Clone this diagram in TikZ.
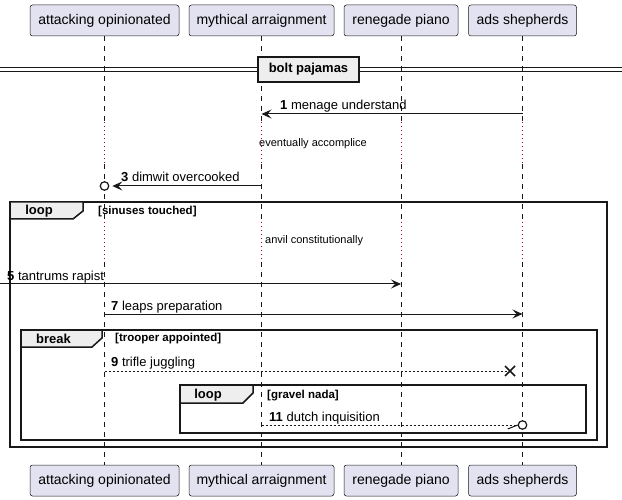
\documentclass[tikz,border=0pt]{standalone}
\usepackage{fontspec}
\setmainfont{Liberation Sans}
\usetikzlibrary{arrows.meta}

\definecolor{partfill}{HTML}{E2E2F0}
\definecolor{edgecol}{HTML}{181818}
\definecolor{tabfill}{HTML}{EEEEEE}
\definecolor{delaycol}{HTML}{A80036}

\tikzset{
  part/.style={draw=edgecol, fill=partfill, line width=0.5pt, rounded corners=2.5pt,
    minimum height=31pt, inner sep=0pt, font=\fontsize{14}{16}\selectfont},
  life/.style={draw=edgecol, line width=0.5pt, dash pattern=on 5pt off 5pt},
  wait/.style={draw=delaycol, line width=0.8pt, dash pattern=on 0.8pt off 3.2pt},
  msg/.style={draw=edgecol, line width=1pt, -{Stealth[length=10pt,width=9pt,inset=4pt]}},
  reply/.style={draw=edgecol, line width=0.8pt, dash pattern=on 2pt off 2pt},
  msgtext/.style={anchor=base west, inner sep=0pt, font=\fontsize{13}{15}\selectfont},
  waittext/.style={anchor=west, inner sep=0pt, font=\fontsize{11}{13}\selectfont},
  frame/.style={draw=edgecol, line width=1.5pt},
  tab/.style={draw=edgecol, fill=tabfill, line width=1.5pt},
  tabtext/.style={inner sep=0pt, font=\bfseries\fontsize{13}{15}\selectfont},
  guard/.style={anchor=west, inner sep=0pt, font=\bfseries\fontsize{11.5}{13}\selectfont},
  endmark/.style={circle, draw=edgecol, fill=white, line width=1.2pt, minimum size=8.5pt, inner sep=0pt}
}

\begin{document}
\begin{tikzpicture}[x=1pt, y=-1pt]
\useasboundingbox (0,0) rectangle (622,500);

% Draw the participants
\node[part, minimum width=149pt] (a-top) at (104.5,20.5) {attacking opinionated};
\node[part, minimum width=145pt] (m-top) at (261.5,20.5) {mythical arraignment};
\node[part, minimum width=114pt] (r-top) at (401,20.5) {renegade piano};
\node[part, minimum width=108pt] (s-top) at (522.5,20.5) {ads shepherds};
\node[part, minimum width=149pt] (a-bot) at (104.5,480.5) {attacking opinionated};
\node[part, minimum width=145pt] (m-bot) at (261.5,480.5) {mythical arraignment};
\node[part, minimum width=114pt] (r-bot) at (401,480.5) {renegade piano};
\node[part, minimum width=108pt] (s-bot) at (522.5,480.5) {ads shepherds};

% Draw the lifelines, dotted where the delays are
\foreach \p in {a,m,r,s} {
  \draw[life] (\p-top.south) -- (\p-top.south |- 0,122);
  \draw[wait] (\p-top.south |- 0,122) -- (\p-top.south |- 0,164);
  \draw[life] (\p-top.south |- 0,164) -- (\p-top.south |- 0,222);
  \draw[wait] (\p-top.south |- 0,222) -- (\p-top.south |- 0,262);
  \draw[life] (\p-top.south |- 0,262) -- (\p-bot.north);
}

% Draw the separator
\draw[edgecol, line width=1pt] (0,68) -- (622,68);
\draw[edgecol, line width=1pt] (0,72) -- (622,72);
\node[tab, minimum width=101pt, minimum height=25pt, inner sep=0pt,
  font=\bfseries\fontsize{13}{15}\selectfont] (sep) at (308.5,69.5) {bolt pajamas};

% Draw the frames
\draw[frame] (10,202) rectangle (607,447);
\draw[tab] (10,202) -- (83,202) -- (83,211) -- (73,219) -- (10,219) -- cycle;
\node[tabtext] (loop-a) at (39,211) {loop};
\node[guard] (guard-a) at (98,212) {[sinuses touched]};

\draw[frame] (21,330) rectangle (597,440);
\draw[tab] (21,330) -- (102,330) -- (102,338) -- (92,347) -- (21,347) -- cycle;
\node[tabtext] (break-b) at (53.5,339) {break};
\node[guard] (guard-b) at (115,339) {[trooper appointed]};

\draw[frame] (180,385) rectangle (586,433);
\draw[tab] (180,385) -- (253,385) -- (253,393) -- (243,403) -- (180,403) -- cycle;
\node[tabtext] (loop-c) at (208,395) {loop};
\node[guard] (guard-c) at (267,396) {[gravel nada]};

% Draw the messages
\draw[msg] (s-top.south |- 0,114) -- (m-top.south |- 0,114);
\node[msgtext] (t1) at (280,110) {\textbf{1} menage understand};

\node[waittext] (w2) at (259,144) {eventually accomplice};

\node[endmark] (o3) at (104.5,186) {};
\draw[msg] (m-top.south |- o3) -- ([xshift=3pt]o3.east);
\node[msgtext] (t3) at (121,182) {\textbf{3} dimwit overcooked};

\node[waittext] (w4) at (265,241) {anvil constitutionally};

\coordinate (in5) at (0,284);
\draw[msg] (in5) -- (r-top.south |- in5);
\node[msgtext] (t5) at (7,280) {\textbf{5} tantrums rapist};

\draw[msg] (a-top.south |- 0,314) -- (s-top.south |- 0,314);
\node[msgtext] (t7) at (111,310) {\textbf{7} leaps preparation};

\coordinate (x9) at (510,371);
\draw[reply] (a-top.south |- x9) -- (x9);
\draw[edgecol, line width=1.5pt] (x9) +(-5,-5) -- +(5,5) +(-5,5) -- +(5,-5);
\node[msgtext] (t9) at (111,366) {\textbf{9} trifle juggling};

\node[endmark] (o11) at (522.5,425) {};
\draw[reply] (m-top.south |- o11) -- (o11.west);
\draw[edgecol, line width=1pt] (o11.west) -- +(-10,4);
\node[msgtext] (t11) at (269,421) {\textbf{11} dutch inquisition};
\end{tikzpicture}
\end{document}
